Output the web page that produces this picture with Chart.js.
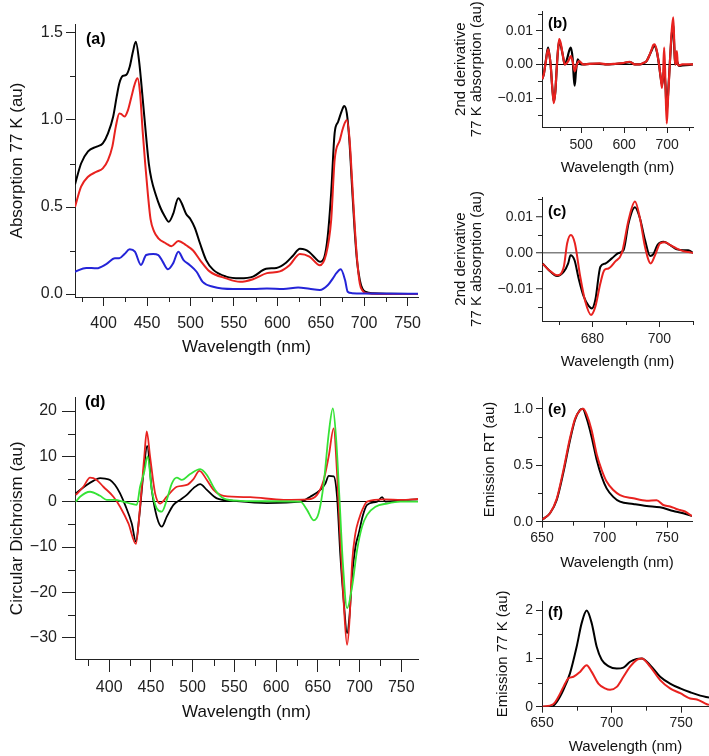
<!DOCTYPE html>
<html><head><meta charset="utf-8">
<script src="https://cdn.jsdelivr.net/npm/chart.js@4/dist/chart.umd.min.js"></script>
<style>
html,body{margin:0;padding:0;background:#fff;width:709px;height:756px;overflow:hidden;position:relative}
canvas{position:absolute}
</style></head><body>
<canvas id="ca" width="430" height="363" style="left:0;top:0"></canvas>
<canvas id="cb" width="269" height="180" style="left:440px;top:0"></canvas>
<canvas id="cc" width="269" height="190" style="left:440px;top:185px"></canvas>
<canvas id="cd" width="430" height="350" style="left:0;top:380px"></canvas>
<canvas id="ce" width="239" height="197" style="left:470px;top:380px"></canvas>
<canvas id="cf" width="229" height="171" style="left:480px;top:585px"></canvas>
<script>
// ---------- Panel (a): absorption 77 K ----------
const aBlackX = [367,374,382,392,399,405,411,415,418,422,426,430,434,437,441,445,449,452,455,460,465,470,475,480,486,490,495,500,505,511,518,526,541,557,572,587,599,610,618,626,632,637,643,649,654,658,662,666,670,674,677,680,683,686,689,692,695,698,702,710,730,762];
const aBlackY = [0.63,0.75,0.82,0.847,0.866,0.923,1.02,1.134,1.21,1.253,1.259,1.306,1.40,1.45,1.33,1.12,0.90,0.75,0.66,0.57,0.50,0.45,0.415,0.46,0.55,0.52,0.46,0.43,0.38,0.29,0.195,0.14,0.10,0.09,0.10,0.145,0.15,0.18,0.22,0.26,0.255,0.24,0.21,0.185,0.21,0.33,0.58,0.925,0.99,1.05,1.08,1.04,0.88,0.62,0.37,0.18,0.08,0.03,0.012,0.004,0.002,0.0];
const aRedX = [367,374,382,392,399,405,410,414,418,420,424,428,432,436,439,442,445,448,451,454,458,463,472,478,486,495,503,511,522,541,557,572,588,603,614,626,637,649,656,662,666,672,676,680,683,686,689,692,695,698,702,710,762];
const aRedY = [0.50,0.617,0.674,0.703,0.722,0.77,0.847,0.962,1.038,1.035,1.02,1.057,1.134,1.21,1.24,1.15,0.93,0.74,0.57,0.43,0.36,0.32,0.29,0.275,0.305,0.28,0.25,0.195,0.13,0.09,0.07,0.085,0.12,0.13,0.165,0.23,0.215,0.165,0.225,0.425,0.77,0.885,0.96,1.0,0.90,0.66,0.40,0.19,0.06,0.02,0.005,0.002,0.0];
const aBlueX = [367,380,392,403,413,418,424,430,436,443,449,457,463,468,474,480,486,492,499,507,514,526,549,572,588,607,624,637,649,658,664,668,673,678,681,686,700,762];
const aBlueY = [0.128,0.15,0.148,0.172,0.205,0.205,0.23,0.257,0.243,0.167,0.224,0.23,0.224,0.186,0.142,0.176,0.243,0.195,0.167,0.128,0.07,0.042,0.029,0.029,0.032,0.029,0.038,0.03,0.023,0.05,0.09,0.12,0.142,0.08,0.013,0.005,0.003,0.002];
const aXTicks = [400,450,500,550,600,650,700,750];
const aXLabels = ['400','450','500','550','600','650','700','750'];
const aXMinor = [375,425,475,525,575,625,675,725];
const aYTicks = [0,0.5,1.0,1.5];
const aYLabels = ['0.0','0.5','1.0','1.5'];
const aYMinor = [0.25,0.75,1.25];

// ---------- Panel (b): 2nd derivative, full range ----------
const bBlackX = [409,413,418,423,426,429,433,436.5,440,443,446,449,453,457,462,468,472,476,480,483,485,488,492,495,500,505,520,543,560,575,595,613,625,636,645,652,658,664,668,671,676,681,685,688,690.5,693,696,699,702,706,710,714,716.5,718.5,722.5,727,735,760];
const bBlackY = [-0.0044,-0.003,0.0012,0.005,0.003,0,-0.007,-0.011,-0.008,-0.0016,0.004,0.007,0.0055,0.003,0,0.002,0.004,0.005,0.002,-0.004,-0.0063,-0.002,0.0015,0.001,0.0,0.0,0.0002,0.0002,0.0,0.0001,0.0003,0.0007,0.0,0.0,0.0004,0.001,0.0025,0.0042,0.0053,0.0055,0.0038,0.0,-0.004,-0.006,-0.004,-0.002,-0.006,-0.014,-0.009,0.0,0.008,0.012,0.005,0.0,0.001,-0.0004,-0.0003,0.0];
const bRedX = [409,413,418,423,426,429,433,436.5,440,443,446,449,453,457,462,470,476,481,485,490,495,505,520,543,560,575,595,613,625,636,645,652,658,664,668,671,676,681,685,688,690.5,693,696,699,702,706,710,714,716.5,718.5,720.5,722.5,724.5,727,735,760];
const bRedY = [-0.0044,-0.003,0.001,0.0045,0.003,0,-0.007,-0.0115,-0.008,-0.0016,0.004,0.0075,0.006,0.003,0,0.001,0.0025,0.0005,-0.002,0.0,0.001,0.0,0.0002,0.0003,0.0,0.0002,0.0004,0.0008,0.0,0.0,0.0005,0.001,0.0025,0.0045,0.0058,0.006,0.004,0.0,-0.004,-0.007,-0.003,0.005,-0.006,-0.0175,-0.010,0.0,0.009,0.014,0.006,0.0,0.001,0.004,0.0,-0.0003,0.0,0.0];
const bXTicks = [500,600,700];
const bXLabels = ['500','600','700'];
const bXMinor = [450,550,650,750];
const bYTicks = [-0.01,0,0.01];
const bYLabels = ['\u22120.01','0.00','0.01'];
const bYMinor = [-0.015,-0.005,0.005,0.015];

// ---------- Panel (c): 2nd derivative, zoom ----------
const cBlackX = [665.2,667,669.5,671.5,672.8,673.5,674.7,675.9,677.4,678.9,679.9,680.9,682.4,683.9,685.8,687.8,689.3,690.8,692.7,694.2,695.7,697.2,698.2,699.4,701.2,703.2,705.2,707.2,708.6,710];
const cBlackY = [-0.0029,-0.0047,-0.0064,-0.0052,-0.0029,-0.0006,-0.002,-0.007,-0.012,-0.0147,-0.0154,-0.013,-0.0038,-0.0029,-0.0015,0,0.0008,0.0083,0.0127,0.0096,0.0036,-0.0008,-0.0003,0.0022,0.0031,0.0022,0.001,0.0008,0.0008,0];
const cRedX = [665.2,667,669.5,671.5,672.5,673.6,674.8,676.4,677.9,679.6,680.9,682.4,683.6,684.8,686.8,688.8,690.8,692.7,694.2,695.7,697.4,698.7,700.2,701.7,703.2,705.2,707.2,708.6,710];
const cRedY = [-0.003,-0.0047,-0.0062,-0.0038,0.0027,0.005,0.0027,-0.0066,-0.0135,-0.0172,-0.0149,-0.0084,-0.0047,-0.0043,-0.0024,0,0.0092,0.0143,0.0096,0.0017,-0.0029,-0.0006,0.0027,0.003,0.0022,0.0012,0.0005,0.0003,0];
const cXTicks = [680,700];
const cXLabels = ['680','700'];
const cXMinor = [670,690,710];
const cYTicks = [-0.01,0,0.01];
const cYLabels = ['\u22120.01','0.00','0.01'];
const cYMinor = [-0.015,-0.005,0.005,0.015];

// ---------- Panel (d): circular dichroism ----------
const dBlackX = [360,373,381,389,395,401,407,413,419,427,432,436,441,445.5,451,457,463,469,477,485,493,501,509,517,529,549,589,629,641,653,659,663,669,673,677,681,685,688,691,695,699,704,709,721,727,731,749,770];
const dBlackY = [1.85,3.7,4.6,5.2,5.1,4.8,3.7,1.85,-0.7,-4.8,-8.8,-3.3,6.3,12.3,2.6,-3.3,-5.5,-3.3,-0.7,0.4,1.5,3.0,3.9,2.6,0.75,0.2,-0.3,0.0,1.1,2.6,4.0,5.7,5.6,1.1,-12,-22,-29,-25,-16.5,-10,-7,-3,-0.7,0,1.0,0,0.3,0.5];
const dRedX = [360,369,377,385,393,405,413,423,432,437,442,445,449,455,461,469,481,493,501,508,517,525,537,569,609,637,649,657,663,669,673,677,681,685,688,691,695,699,704,709,730,750,770];
const dRedY = [1.5,3.3,5.3,4.8,3.3,1.1,-1.1,-4.8,-9.3,-1.1,9.9,15.5,9.9,1.85,-0.4,1.1,3.3,3.7,5.0,6.8,4.8,2.6,1.3,1.0,0.4,0.5,1.5,4.8,10,16.2,6.3,-8.5,-22.4,-31.6,-26,-13.6,-7,-4,-1.5,0,0.5,0.4,0.6];
const dGreenX = [360,365,377,389,397,407,417,427,433,437,442,446,451,457,463,469,475,481,487,497,509,517,527,537,557,589,629,637,645,651,657,663,668,672,676,680,685,691,697,703,709,719,733,749,770];
const dGreenY = [0,1.1,2.2,1.3,0.4,0.4,0,-0.5,-0.7,3.3,6.6,10,2.6,-1.5,-2.2,0.4,4,5.3,4.8,6.1,7.2,5.9,2.6,0.75,0.2,0.1,0,-1.8,-4.1,-2.5,4,15,20.6,13.6,0.4,-13.6,-23.5,-18.8,-10.7,-5.5,-2.9,-1.1,-0.4,0,0];
const dXTicks = [400,450,500,550,600,650,700,750];
const dXLabels = ['400','450','500','550','600','650','700','750'];
const dXMinor = [375,425,475,525,575,625,675,725];
const dYTicks = [-30,-20,-10,0,10,20];
const dYLabels = ['\u221230','\u221220','\u221210','0','10','20'];
const dYMinor = [-25,-15,-5,5,15];

// ---------- Panel (e): emission RT ----------
const eBlackX = [650.5,656.4,661.7,667,672.4,676.4,680.4,682.5,685.7,689.7,693.7,697.7,701.7,707,712.4,723,733.7,744.4,755,763,770];
const eBlackY = [0.02,0.075,0.19,0.43,0.72,0.9,0.99,1.0,0.915,0.75,0.55,0.4,0.295,0.22,0.177,0.157,0.139,0.127,0.095,0.074,0.05];
const eRedX = [650.5,656.4,661.7,667,672.4,676.4,680.4,683,685.7,689.7,693.7,697.7,701.7,707,712.4,723,733.7,741.7,747,752.4,757,760.4,764.4,770];
const eRedY = [0.02,0.075,0.2,0.45,0.74,0.91,0.985,1.0,0.95,0.81,0.6,0.46,0.355,0.28,0.236,0.207,0.186,0.19,0.148,0.135,0.115,0.103,0.09,0.05];
const eXTicks = [650,700,750];
const eXLabels = ['650','700','750'];
const eXMinor = [675,725];
const eYTicks = [0,0.5,1.0];
const eYLabels = ['0.0','0.5','1.0'];
const eYMinor = [0.25,0.75];

// ---------- Panel (f): emission 77 K ----------
const fBlackX = [650.5,657,660.6,665.4,670.1,674.9,678.5,682.1,685.7,689.3,692.9,697.7,703.7,708.5,713.3,718.1,721.7,727.7,734.9,742,749.3,756.5,763.7,770];
const fBlackY = [0,0,0.1,0.35,0.69,1.24,1.73,1.99,1.73,1.24,0.97,0.84,0.79,0.81,0.93,0.99,1.0,0.86,0.62,0.48,0.38,0.3,0.23,0.19];
const fRedX = [650.5,658,661.7,665.4,669,672.6,677.3,682.1,685.7,690.5,695.3,698.9,703.7,708.5,713.3,718.1,721.7,727.7,734.9,742,749.3,756.5,761.3,768.5,770];
const fRedY = [0,0.05,0.2,0.41,0.59,0.62,0.72,0.86,0.72,0.48,0.38,0.35,0.41,0.62,0.83,0.97,1.0,0.83,0.55,0.38,0.28,0.17,0.15,0.05,0.04];
const fXTicks = [650,700,750];
const fXLabels = ['650','700','750'];
const fXMinor = [675,725];
const fYTicks = [0,1,2];
const fYLabels = ['0','1','2'];
const fYMinor = [0.5,1.5];

const BLACK = '#000000', RED = '#e8221f', BLUE = '#2424d8', GREEN = '#36e236';
const AXIS = '#222222';
const FONT = "'Liberation Sans', Arial, Helvetica, sans-serif";

function pts(xs, ys) { return xs.map((x, i) => ({x: x, y: ys[i]})); }

function panel(id, c) {
  const extra = {
    id: 'extra_' + id,
    afterDraw(chart) {
      const ctx = chart.ctx, ca = chart.chartArea;
      const xs = chart.scales.x, ys = chart.scales.y;
      ctx.save();
      ctx.strokeStyle = AXIS; ctx.lineWidth = 1;
      ctx.beginPath();
      c.xMinor.forEach(v => { const p = Math.round(xs.getPixelForValue(v)) + 0.5; ctx.moveTo(p, ca.bottom); ctx.lineTo(p, ca.bottom + c.minorLen); });
      c.yMinor.forEach(v => { const p = Math.round(ys.getPixelForValue(v)) + 0.5; ctx.moveTo(ca.left, p); ctx.lineTo(ca.left - c.minorLen, p); });
      ctx.stroke();
      ctx.fillStyle = '#000';
      ctx.font = 'bold ' + c.labelSize + 'px ' + FONT;
      ctx.textBaseline = 'middle'; ctx.textAlign = 'left';
      ctx.fillText(c.label, ca.left + c.lx, ca.top + c.ly);
      ctx.restore();
    }
  };
  const zeroColor = c.zeroColor;
  new Chart(document.getElementById(id), {
    type: 'line',
    data: { datasets: c.datasets.map((d, i) => ({
      data: d.data, borderColor: d.color, borderWidth: c.lw, pointRadius: 0,
      cubicInterpolationMode: 'monotone', fill: false, order: i
    })) },
    options: {
      responsive: false, animation: false, events: [],
      layout: { autoPadding: false, padding: { top: c.pt, right: c.pr, left: 0, bottom: 0 } },
      plugins: { legend: { display: false }, tooltip: { enabled: false } },
      scales: {
        x: {
          type: 'linear', min: c.xmin, max: c.xmax,
          afterBuildTicks: s => { s.ticks = c.xTicks.map(v => ({value: v})); },
          afterFit: s => { s.height = c.xh; },
          ticks: { autoSkip: false, maxRotation: 0, minRotation: 0, padding: c.xpad, color: AXIS,
                   font: { family: FONT, size: c.tickSize }, callback: (v, i) => c.xLabels[i] },
          grid: { drawOnChartArea: false, tickLength: c.majorLen, tickColor: AXIS, tickWidth: 1 },
          border: { display: true, color: AXIS, width: 1 },
          title: { display: true, text: 'Wavelength (nm)', color: '#111',
                   font: { family: FONT, size: c.titleSize, lineHeight: 1.2 }, padding: { top: 0, bottom: c.xtpad } }
        },
        y: {
          type: 'linear', min: c.ymin, max: c.ymax,
          afterBuildTicks: s => { s.ticks = c.yTicks.map(v => ({value: v})); },
          afterFit: s => { s.width = c.yw; },
          ticks: { autoSkip: false, padding: c.ypad, color: AXIS,
                   font: { family: FONT, size: c.tickSize }, callback: (v, i) => c.yLabels[i] },
          grid: {
            drawOnChartArea: !!zeroColor, tickLength: c.majorLen, tickColor: AXIS, tickWidth: 1,
            color: ctx => (zeroColor && ctx.tick && ctx.tick.value === 0) ? zeroColor : 'rgba(0,0,0,0)',
            lineWidth: c.zeroWidth || 1
          },
          border: { display: true, color: AXIS, width: 1 },
          title: { display: true, text: c.yTitle, color: '#111',
                   font: { family: FONT, size: c.titleSize, lineHeight: c.ytlh || 1.2 }, padding: { top: c.ytpad, bottom: 0 } }
        }
      }
    },
    plugins: [extra]
  });
}

panel('ca', {
  pt: 24, pr: 12, yw: 75, xh: 66, xmin: 367, xmax: 762, ymin: -0.0172, ymax: 1.5517,
  xTicks: aXTicks, xLabels: aXLabels, xMinor: aXMinor, yTicks: aYTicks, yLabels: aYLabels, yMinor: aYMinor,
  tickSize: 16, titleSize: 17, majorLen: 9, minorLen: 5, xpad: 8, ypad: 3, xtpad: 5, ytpad: 7,
  yTitle: 'Absorption 77 K (au)', label: '(a)', labelSize: 16, lx: 11, ly: 16, lw: 2,
  datasets: [ {data: pts(aBlueX, aBlueY), color: BLUE}, {data: pts(aRedX, aRedY), color: RED}, {data: pts(aBlackX, aBlackY), color: BLACK} ]
});
panel('cb', {
  pt: 5, pr: 16, yw: 102, xh: 53, xmin: 409, xmax: 760, ymin: -0.01859, ymax: 0.01577,
  xTicks: bXTicks, xLabels: bXLabels, xMinor: bXMinor, yTicks: bYTicks, yLabels: bYLabels, yMinor: bYMinor,
  tickSize: 14, titleSize: 15, majorLen: 6, minorLen: 4, xpad: 4, ypad: 3, xtpad: 3, ytpad: 13, ytlh: 1.07,
  yTitle: ['2nd derivative', '77 K absorption (au)'], label: '(b)', labelSize: 15, lx: 6, ly: 12, lw: 2.2,
  zeroColor: '#000',
  datasets: [ {data: pts(bRedX, bRedY), color: RED}, {data: pts(bBlackX, bBlackY), color: BLACK} ]
});
panel('cc', {
  pt: 12, pr: 16, yw: 102, xh: 54, xmin: 665, xmax: 710, ymin: -0.01889, ymax: 0.01556,
  xTicks: cXTicks, xLabels: cXLabels, xMinor: cXMinor, yTicks: cYTicks, yLabels: cYLabels, yMinor: cYMinor,
  tickSize: 14, titleSize: 15, majorLen: 6, minorLen: 4, xpad: 4, ypad: 3, xtpad: 4, ytpad: 13, ytlh: 1.07,
  yTitle: ['2nd derivative', '77 K absorption (au)'], label: '(c)', labelSize: 15, lx: 6, ly: 15, lw: 2,
  zeroColor: '#808080', zeroWidth: 1.5,
  datasets: [ {data: pts(cRedX, cRedY), color: RED}, {data: pts(cBlackX, cBlackY), color: BLACK} ]
});
panel('cd', {
  pt: 17.5, pr: 12, yw: 75, xh: 71, xmin: 359, xmax: 770, ymin: -34.72, ymax: 23.0,
  xTicks: dXTicks, xLabels: dXLabels, xMinor: dXMinor, yTicks: dYTicks, yLabels: dYLabels, yMinor: dYMinor,
  tickSize: 16, titleSize: 17, majorLen: 13, minorLen: 7, xpad: 6, ypad: 5, xtpad: 7, ytpad: 7,
  yTitle: 'Circular Dichroism (au)', label: '(d)', labelSize: 16, lx: 10, ly: 5, lw: 1.8,
  zeroColor: '#000',
  datasets: [ {data: pts(dGreenX, dGreenY), color: GREEN}, {data: pts(dRedX, dRedY), color: RED}, {data: pts(dBlackX, dBlackY), color: BLACK} ]
});
panel('ce', {
  pt: 17.4, pr: 17, yw: 72, xh: 55.3, xmin: 650, xmax: 770, ymin: 0, ymax: 1.1,
  xTicks: eXTicks, xLabels: eXLabels, xMinor: eXMinor, yTicks: eYTicks, yLabels: eYLabels, yMinor: eYMinor,
  tickSize: 14, titleSize: 15, majorLen: 6, minorLen: 4, xpad: 2, ypad: 3, xtpad: 4.7, ytpad: 11,
  yTitle: 'Emission RT (au)', label: '(e)', labelSize: 15, lx: 6, ly: 12.6, lw: 2,
  datasets: [ {data: pts(eRedX, eRedY), color: RED}, {data: pts(eBlackX, eBlackY), color: BLACK} ]
});
panel('cf', {
  pt: 16, pr: 0, yw: 62, xh: 49.3, xmin: 650, xmax: 770, ymin: 0, ymax: 2.188,
  xTicks: fXTicks, xLabels: fXLabels, xMinor: fXMinor, yTicks: fYTicks, yLabels: fYLabels, yMinor: fYMinor,
  tickSize: 14, titleSize: 15, majorLen: 6, minorLen: 4, xpad: 2, ypad: 3, xtpad: 0.3, ytpad: 14,
  yTitle: 'Emission 77 K (au)', label: '(f)', labelSize: 15, lx: 6, ly: 12, lw: 2,
  datasets: [ {data: pts(fRedX, fRedY), color: RED}, {data: pts(fBlackX, fBlackY), color: BLACK} ]
});
</script>
</body></html>
